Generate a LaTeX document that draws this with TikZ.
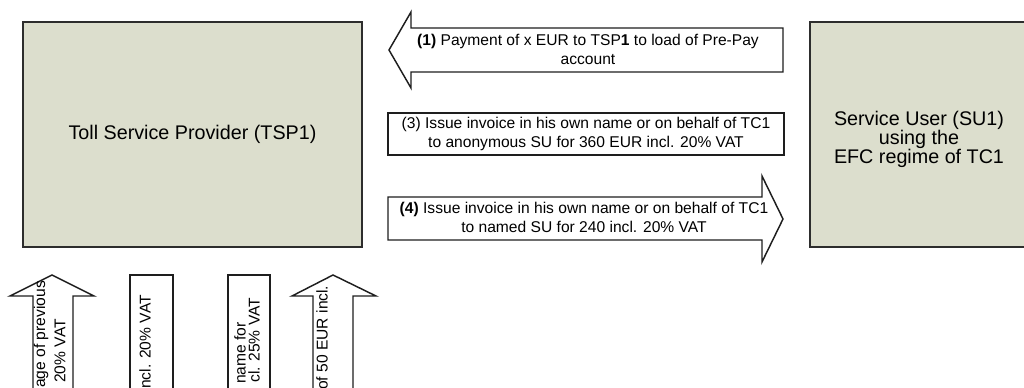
\documentclass[tikz,border=0pt]{standalone}
\usepackage{fontspec}
\setmainfont{Liberation Sans}
\definecolor{tollgrey}{RGB}{220,222,205}
\definecolor{boxline}{RGB}{45,45,45}
\definecolor{arrowline}{RGB}{30,30,30}

\begin{document}
\begin{tikzpicture}[x=0.75pt,y=0.75pt,yscale=-1,xscale=1,
  tollbox/.style={draw=boxline,fill=tollgrey,line width=1.5pt,inner sep=0pt,align=center,font=\fontsize{14.8}{14.4}\selectfont},
  blockarrow/.style={draw=arrowline,fill=white,line width=1.1pt,line join=miter},
  arrowtext/.style={inner sep=0.75pt,align=center,font=\fontsize{11.7}{14.25}\selectfont},
  uptext/.style={arrowtext,rotate=90,anchor=west}]
\useasboundingbox (0,0) rectangle (1024,388);
\clip (0,0) rectangle (1024,388);

%Shape: Rectangle [TSP1]
\node [tollbox,minimum width=254.25pt,minimum height=168.75pt] (tsp) at (192.5,134.5) {Toll Service Provider (TSP1)};
%Shape: Rectangle [SU1]
\node [tollbox,minimum width=163.5pt,minimum height=168.75pt] (su) at (919,134.5) {};
% Text Node
\node [tollbox,draw=none,fill=none] (sutext) at (919,139.5) {Service User (SU1)\\using the\\EFC regime of TC1};

%Shape: Left Arrow [1]
\draw [blockarrow] (783,28) -- (411,28) -- (411,12) -- (389,50) -- (411,88) -- (411,72) -- (783,72) -- cycle ;
%Shape: Rectangle [3]
\node [blockarrow,arrowtext,minimum width=297pt,minimum height=31.5pt] (invanon) at (586,134) {(3) Issue invoice in his own name or on behalf of TC1\\to anonymous SU for 360 EUR incl. 20\% VAT};
%Shape: Right Arrow [4]
\draw [blockarrow] (388,197) -- (762,197) -- (762,176) -- (783,219) -- (762,262) -- (762,240) -- (388,240) -- cycle ;

%Shape: Up Arrow
\draw [blockarrow] (33,400) -- (33,296) -- (10,296) -- (52,275) -- (94,296) -- (73,296) -- (73,400) -- cycle ;
%Shape: Rectangle
\draw [blockarrow] (130,400) -- (130,275) -- (173,275) -- (173,400) -- cycle ;
%Shape: Rectangle
\draw [blockarrow] (228,400) -- (228,275) -- (270,275) -- (270,400) -- cycle ;
%Shape: Up Arrow
\draw [blockarrow] (313,400) -- (313,296) -- (292,296) -- (333,275) -- (376,296) -- (353,296) -- (353,400) -- cycle ;

% Text Node
\node [arrowtext] (prepay) at (588,49) {\textbf{(1)} Payment of x EUR to TSP\textbf{1} to load of Pre-Pay\\account};
% Text Node
\node [arrowtext] (invnamed) at (584,217.5) {\textbf{(4)} Issue invoice in his own name or on behalf of TC1\\to named SU for 240 incl. 20\% VAT};
% Text Node
\node [uptext] (usagea) at (41,389) {age of previous};
% Text Node
\node [uptext] (usageb) at (60,384) {20\% VAT};
% Text Node
\node [uptext] (invb) at (145,390) {ncl. 20\% VAT};
% Text Node
\node [uptext] (invca) at (240,385) {name for};
% Text Node
\node [uptext] (invcb) at (254,384) {cl. 25\% VAT};
% Text Node
\node [uptext] (topup) at (322,391) {of 50 EUR incl.};

\end{tikzpicture}
\end{document}
